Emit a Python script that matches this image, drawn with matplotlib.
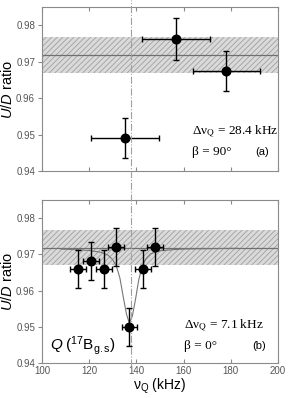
import numpy as np
import matplotlib
matplotlib.use("Agg")
import matplotlib.pyplot as plt
from matplotlib.transforms import blended_transform_factory

plt.rcParams['font.family'] = ['Liberation Sans', 'DejaVu Sans']
plt.rcParams['mathtext.fontset'] = 'custom'
plt.rcParams['mathtext.rm'] = 'Liberation Sans'
plt.rcParams['mathtext.it'] = 'Liberation Sans:italic'
plt.rcParams['mathtext.bf'] = 'Liberation Sans:bold'
plt.rcParams['hatch.linewidth'] = 0.6

# Panel (a): beta = 90 deg, delta nu = 28.4 kHz
nu_a = [135.2, 156.8, 178.2]
ratio_a = [0.9492, 0.9763, 0.9674]
nu_err_a = [14.5, 14.5, 14.3]
ratio_err_a = [0.0055, 0.0058, 0.0055]

# Panel (b): beta = 0 deg, delta nu = 7.1 kHz
nu_b = [115.2, 120.7, 126.3, 131.4, 137.0, 142.7, 147.9]
ratio_b = [0.9660, 0.9682, 0.9660, 0.9720, 0.9500, 0.9660, 0.9720]
nu_err_b = [3.3, 3.3, 3.3, 3.3, 3.3, 3.3, 3.3]
ratio_err_b = [0.0053, 0.0053, 0.0053, 0.0053, 0.0053, 0.0053, 0.0053]

# fit curve
curve_nu = [108, 115, 120, 125, 128, 130, 131.5, 133, 134.5, 135.8, 137.0,
            138.3, 139.6, 141, 142.5, 144, 146, 150, 155, 160, 170, 183]
curve_ratio = [0.9715, 0.9713, 0.9711, 0.9706, 0.9698, 0.9685, 0.9668, 0.9635,
               0.9580, 0.9535, 0.9510, 0.9530, 0.9575, 0.9630, 0.9668, 0.9688,
               0.9702, 0.9710, 0.9713, 0.9715, 0.9716, 0.9717]

# reference level and its uncertainty band
ref_ratio = 0.9718
band_lo, band_hi = 0.9670, 0.9768
nu_res = 137.6

fig = plt.figure(figsize=(2.88, 3.98), dpi=100)
ax1 = fig.add_axes([0.146, 0.570, 0.819, 0.412])
ax2 = fig.add_axes([0.146, 0.088, 0.819, 0.409])

spine_col = '#8a8a8a'
for ax in (ax1, ax2):
    ax.set_xlim(100, 200)
    ax.set_ylim(0.94, 0.985)
    ax.set_xticks([100, 120, 140, 160, 180, 200])
    ax.set_yticks([0.94, 0.95, 0.96, 0.97, 0.98])
    ax.set_yticklabels(['0.94', '0.95', '0.96', '0.97', '0.98'])
    for s in ax.spines.values():
        s.set_color(spine_col)
        s.set_linewidth(0.8)
    ax.tick_params(axis='x', direction='in', top=True, length=3, color=spine_col,
                   labelsize=7, labelcolor='#555555', pad=2)
    ax.tick_params(axis='y', direction='out', length=3, color=spine_col,
                   labelsize=7, labelcolor='#555555', pad=2)
    ax.fill_between([100, 200], band_lo, band_hi, facecolor='#dadada',
                    edgecolor='#a0a0a0', hatch='//////', linewidth=0, zorder=1)
    ax.axhline(ref_ratio, color='#707070', lw=0.9, zorder=2)
    ax.set_ylabel('$U/D$ ratio', fontsize=10.5, labelpad=1)

ax1.tick_params(axis='x', labelbottom=False)

ax1.errorbar(nu_a, ratio_a, xerr=nu_err_a, yerr=ratio_err_a, fmt='o', color='black',
             ms=6.2, elinewidth=1.0, capsize=2.5, capthick=1.0, zorder=4)
ax2.plot(curve_nu, curve_ratio, color='#777777', lw=0.8, zorder=3)
ax2.errorbar(nu_b, ratio_b, xerr=nu_err_b, yerr=ratio_err_b, fmt='o', color='black',
             ms=6.2, elinewidth=1.0, capsize=2.5, capthick=1.0, zorder=4)

# resonance line running through both panels
tr = blended_transform_factory(ax2.transData, fig.transFigure)
ax2.plot([nu_res, nu_res], [0.08, 1.0], transform=tr, color='#a0a0a0', lw=0.8,
         ls='-.', clip_on=False, zorder=3)

serif = dict(family='Liberation Serif', math_fontfamily='stix', fontsize=9.5)
ax1.text(0.635, 0.225, 'Δν${}_{\\mathrm{Q}}$ = 28.4 kHz', transform=ax1.transAxes, **serif)
ax1.text(0.635, 0.10, 'β = 90°', transform=ax1.transAxes, **serif)
ax1.text(0.905, 0.10, '(a)', transform=ax1.transAxes, fontsize=8)

ax2.text(0.60, 0.21, 'Δν${}_{\\mathrm{Q}}$ = 7.1 kHz', transform=ax2.transAxes, **serif)
ax2.text(0.60, 0.085, 'β = 0°', transform=ax2.transAxes, **serif)
ax2.text(0.89, 0.085, '(b)', transform=ax2.transAxes, fontsize=8)
ax2.text(0.035, 0.085, '$Q\\;(^{17}\\mathrm{B}_{\\mathrm{g.s}})$', transform=ax2.transAxes,
         fontsize=11)

ax2.set_xlabel('ν$_{\\mathrm{Q}}$ (kHz)', fontsize=10, labelpad=1)

fig.savefig('out.png', dpi=100)
